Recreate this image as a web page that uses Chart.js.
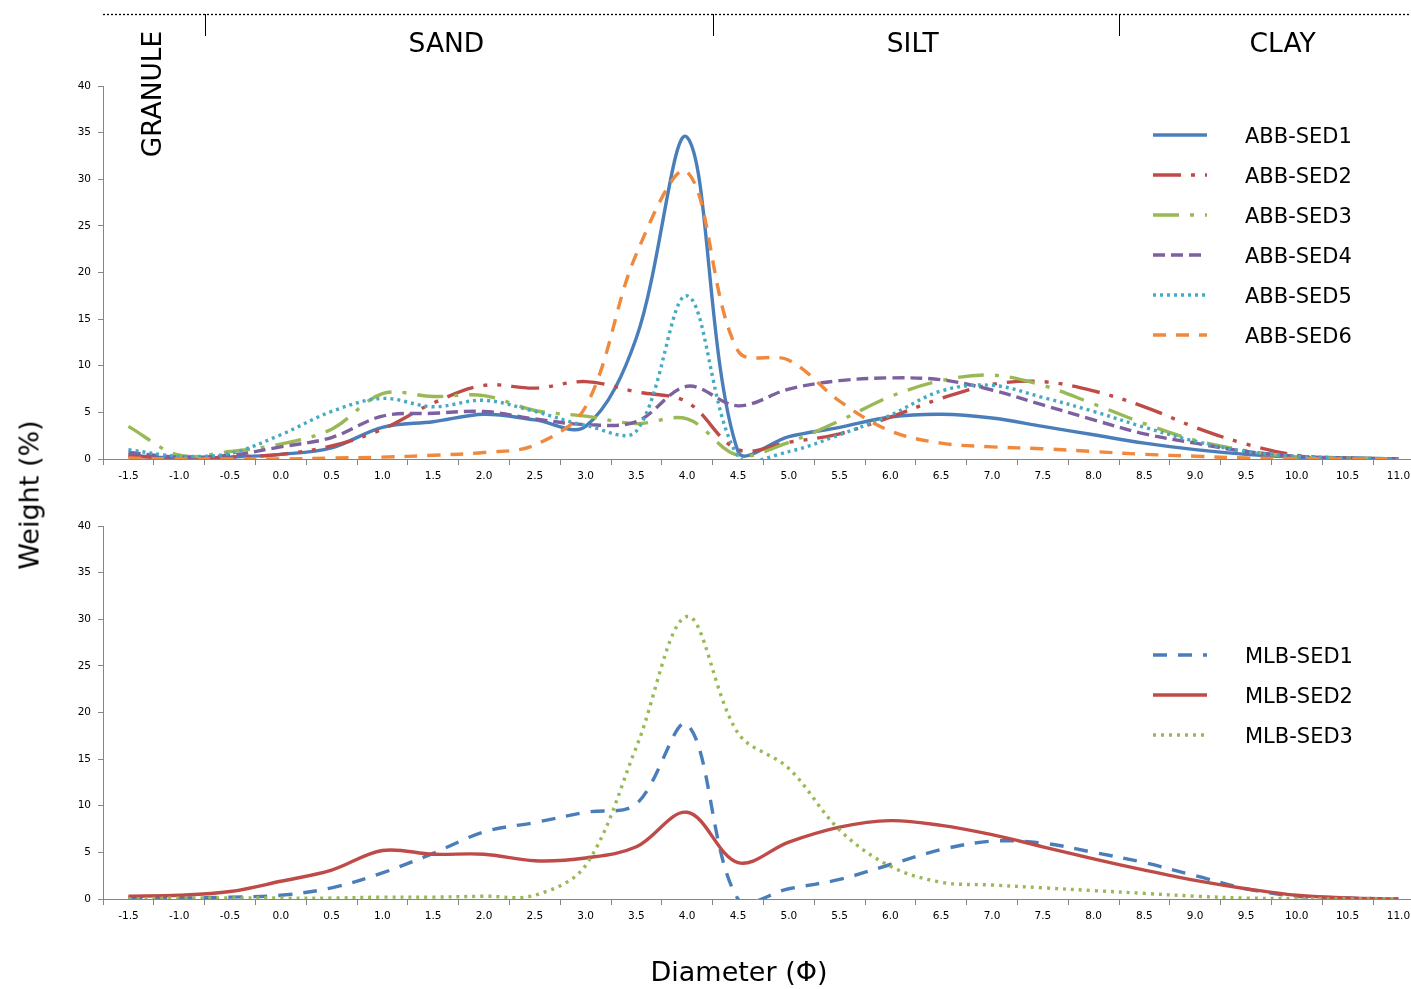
<!DOCTYPE html>
<html><head><meta charset="utf-8">
<script src="https://cdn.jsdelivr.net/npm/chart.js@4/dist/chart.umd.min.js"></script>
<style>
html,body{margin:0;padding:0;background:#fff;overflow:hidden;}
#wrap{position:relative;width:1411px;height:989px;font-family:"DejaVu Sans",Verdana,sans-serif;color:#000;}
#top{position:absolute;left:0;top:0;}
#bottom{position:absolute;left:0;top:500px;}
.ytitle{position:absolute;left:29px;top:495px;transform:translate(-50%,-50%) rotate(-90deg);font-size:27px;white-space:nowrap;}
.xtitle{position:absolute;left:739px;top:971px;transform:translate(-50%,-50%);font-size:27px;white-space:nowrap;}
</style></head>
<body>
<div id="wrap">
<canvas id="top" width="1411" height="500" style="width:1411px;height:500px"></canvas>
<canvas id="bottom" width="1411" height="489" style="width:1411px;height:489px"></canvas>
<div class="ytitle">Weight (%)</div>
<div class="xtitle">Diameter (Φ)</div>
</div>
<script>
// ---- data ----
const diameters = [-1.5,-1.0,-0.5,0.0,0.5,1.0,1.5,2.0,2.5,3.0,3.5,4.0,4.5,5.0,5.5,6.0,6.5,7.0,7.5,8.0,8.5,9.0,9.5,10.0,10.5,11.0];

const abbSed1 = [0.4,0.1,0.2,0.5,1.2,3.4,4.0,4.8,4.2,3.5,13.0,34.5,0.8,2.4,3.4,4.5,4.8,4.4,3.5,2.6,1.7,1.0,0.5,0.2,0.1,0.0];
const abbSed2 = [0.3,0.1,0.2,0.5,1.4,3.2,6.0,7.9,7.6,8.3,7.2,6.1,1.0,1.8,2.7,4.5,6.5,8.0,8.3,7.3,5.6,3.4,1.6,0.4,0.1,0.0];
const abbSed3 = [3.5,0.4,0.8,1.6,3.2,7.0,6.7,6.8,5.2,4.6,3.8,4.3,0.4,1.8,4.1,6.7,8.4,9.0,7.9,5.9,3.8,2.0,0.9,0.2,0.1,0.0];
const abbSed4 = [0.7,0.2,0.4,1.3,2.3,4.6,4.9,5.1,4.3,3.7,4.0,7.8,5.7,7.5,8.4,8.7,8.5,7.4,5.8,4.2,2.7,1.7,0.8,0.3,0.1,0.0];
const abbSed5 = [1.0,0.3,0.6,2.6,5.1,6.5,5.6,6.3,5.1,3.6,3.0,17.5,0.3,0.8,2.6,4.7,7.3,7.9,6.6,5.1,3.4,1.9,0.8,0.3,0.1,0.0];
const abbSed6 = [0.1,0.0,0.0,0.0,0.1,0.2,0.4,0.7,1.5,5.6,22.0,30.8,11.6,10.6,6.2,3.0,1.7,1.3,1.1,0.8,0.5,0.3,0.1,0.05,0.0,0.0];

const mlbSed1 = [0.1,0.1,0.2,0.4,1.2,2.8,4.9,7.2,8.2,9.3,10.2,18.7,0.0,1.1,2.1,3.7,5.3,6.2,6.0,5.0,3.9,2.5,1.1,0.3,0.1,0.0];
const mlbSed2 = [0.3,0.4,0.8,1.9,3.1,5.2,4.8,4.8,4.1,4.4,5.6,9.3,3.9,6.1,7.7,8.4,7.9,6.9,5.6,4.3,3.1,2.0,1.1,0.4,0.1,0.0];
const mlbSed3 = [0.0,0.1,0.1,0.1,0.1,0.2,0.2,0.3,0.4,3.6,16.3,30.3,17.8,14.0,7.4,3.5,1.8,1.5,1.2,0.9,0.6,0.3,0.1,0.05,0.0,0.0];

const yTicks = [0,5,10,15,20,25,30,35,40];
const bandEdges = [-0.75, 4.25, 8.25];
const bandLabels = ['SAND','SILT','CLAY'];
const bandLabelAt = [1.63, 6.22, 9.86];
const granuleLabel = 'GRANULE';
const granuleAt = -1.18;

// ---- styling ----
const FONT = '"DejaVu Sans", Verdana, sans-serif';
Chart.defaults.font.family = FONT;
Chart.defaults.color = '#000';
const AXIS = '#868686';

function series(label, values, color, dash, idx) {
  return {
    label, data: diameters.map((d, i) => ({x: d, y: values[i]})),
    borderColor: color, backgroundColor: color, borderWidth: 3.4,
    borderDash: dash, borderCapStyle: 'butt', borderJoinStyle: 'round',
    pointRadius: 0, pointHoverRadius: 0, fill: false, tension: 0.35,
    order: 20 - idx
  };
}

const legendPlugin = {
  id: 'customLegend',
  afterDatasetsDraw(chart, args, opts) {
    const ctx = chart.ctx, a = chart.chartArea;
    const list = chart.data.datasets.slice().sort((p, q) => q.order - p.order);
    list.forEach((ds, i) => {
      const y = a.top + opts.top + i * 40;
      ctx.save();
      ctx.strokeStyle = ds.borderColor; ctx.lineWidth = 3.4;
      ctx.setLineDash(ds.borderDash || []); ctx.lineCap = 'butt';
      ctx.beginPath(); ctx.moveTo(a.right - 258, y); ctx.lineTo(a.right - 204, y); ctx.stroke();
      ctx.setLineDash([]);
      ctx.fillStyle = '#000'; ctx.font = '21px ' + FONT;
      ctx.textAlign = 'left'; ctx.textBaseline = 'alphabetic';
      ctx.fillText(ds.label, a.right - 166, y + 8);
      ctx.restore();
    });
  }
};

const bandPlugin = {
  id: 'bands',
  afterDraw(chart) {
    const ctx = chart.ctx, x = chart.scales.x, a = chart.chartArea;
    ctx.save();
    ctx.strokeStyle = '#000'; ctx.lineWidth = 1.3;
    ctx.setLineDash([2, 2]);
    ctx.beginPath(); ctx.moveTo(a.left, 14.5); ctx.lineTo(chart.width, 14.5); ctx.stroke();
    ctx.setLineDash([]);
    ctx.lineWidth = 1;
    ctx.beginPath();
    bandEdges.forEach(v => {
      const px = Math.round(x.getPixelForValue(v)) + 0.5;
      ctx.moveTo(px, 14); ctx.lineTo(px, 36);
    });
    ctx.stroke();
    ctx.fillStyle = '#000'; ctx.font = '26.5px ' + FONT;
    ctx.textAlign = 'center'; ctx.textBaseline = 'alphabetic';
    bandLabels.forEach((t, i) => ctx.fillText(t, x.getPixelForValue(bandLabelAt[i]), 52));
    ctx.translate(x.getPixelForValue(granuleAt), 94);
    ctx.rotate(-Math.PI / 2);
    ctx.fillText(granuleLabel, 0, 0);
    ctx.restore();
  }
};

function makeChart(id, datasets, padTop, xHeight, legendTop, extraPlugins) {
  return new Chart(document.getElementById(id), {
    type: 'line',
    data: {datasets},
    plugins: [legendPlugin].concat(extraPlugins),
    options: {
      responsive: false, animation: false, devicePixelRatio: 1,
      layout: {padding: {top: padTop, left: 0, right: 0, bottom: 0}},
      elements: {line: {capBezierPoints: false}},
      plugins: {legend: {display: false}, tooltip: {enabled: false}, customLegend: {top: legendTop}},
      scales: {
        x: {
          type: 'linear', min: -1.75, max: 11.124,
          afterBuildTicks: s => { s.ticks = diameters.map(v => ({value: v})); },
          ticks: {autoSkip: false, maxRotation: 0, padding: 5, font: {size: 10.5}, color: '#000',
                  callback: v => Number(v).toFixed(1)},
          grid: {offset: true, drawOnChartArea: false, drawTicks: true, tickLength: 6, color: AXIS},
          border: {display: true, color: AXIS, width: 1},
          afterFit: s => { s.height = xHeight; s.paddingLeft = 0; s.paddingRight = 0; }
        },
        y: {
          type: 'linear', min: 0, max: 40,
          afterBuildTicks: s => { s.ticks = yTicks.map(v => ({value: v})); },
          ticks: {padding: 7, font: {size: 10.5}, color: '#000'},
          grid: {drawOnChartArea: false, drawTicks: true, tickLength: 5, color: AXIS},
          border: {display: true, color: AXIS, width: 1},
          afterFit: s => { s.width = 103; }
        }
      }
    }
  });
}

makeChart('top', [
  series('ABB-SED1', abbSed1, '#4A7EBB', [], 0),
  series('ABB-SED2', abbSed2, '#BE4B48', [28, 10, 4, 10, 4, 10], 1),
  series('ABB-SED3', abbSed3, '#98B954', [26, 11, 4, 11], 2),
  series('ABB-SED4', abbSed4, '#7D60A0', [12, 6], 3),
  series('ABB-SED5', abbSed5, '#46AAC5', [3, 4], 4),
  series('ABB-SED6', abbSed6, '#F0893C', [13, 10], 5)
], 86, 41, 49, [bandPlugin]);

makeChart('bottom', [
  series('MLB-SED1', mlbSed1, '#4A7EBB', [14, 11], 0),
  series('MLB-SED2', mlbSed2, '#BE4B48', [], 1),
  series('MLB-SED3', mlbSed3, '#98B954', [3, 5], 2)
], 26, 90, 129, []);
</script>
</body></html>
